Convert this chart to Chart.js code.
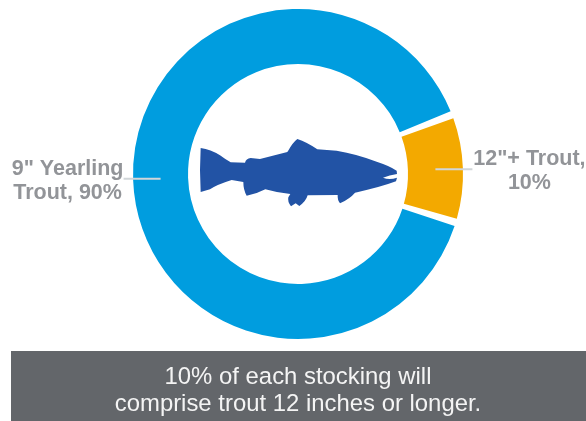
<!DOCTYPE html>
<html>
<head>
<meta charset="utf-8">
<style>
  html, body { margin: 0; padding: 0; background: #fff; }
  canvas { display: block; }
</style>
<script src="https://cdn.jsdelivr.net/npm/chart.js@4"></script>
</head>
<body>
<canvas id="chart" width="586" height="421"></canvas>
<script>
const categories = ['12"+ Trout', '9" Yearling Trout'];
const shares = [10, 90];
const sliceColors = ['#F3A900', '#009DDF'];
const sliceLabels = [['12"+ Trout,', '10%'], ['9" Yearling', 'Trout, 90%']];
const bannerLines = ['10% of each stocking will', 'comprise trout 12 inches or longer.'];

// Trout silhouette, in thirds of a pixel around the fish's own origin.
const troutPath = 'M62 84 Q92 88 120 106 Q136 118 152 127 L195 128 Q198 116 212 114 L240 117 L322 96 ' +
  'L326 90 Q338 68 352 57 Q380 66 412 88 L470 92 Q530 102 590 125 Q630 138 650 152 L651 162 ' +
  'Q628 166 609 173 Q628 181 651 173 L648 184 Q600 202 525 218 Q510 236 480 250 Q472 240 473 225 ' +
  'L383 226 Q378 244 358 258 L347 250 L333 259 Q322 245 325 232 L331 222 Q290 218 256 208 ' +
  'Q230 222 200 227 Q190 210 190 186 L155 180 Q110 194 90 208 L62 216 Q58 150 62 84 Z';

const overlay = {
  id: 'overlay',
  beforeDatasetsDraw(chart) {
    const ctx = chart.ctx;
    // Footer band behind the summary sentence
    ctx.save();
    ctx.fillStyle = '#63666A';
    ctx.fillRect(11, 351, 575, 70);
    ctx.fillStyle = '#F4F4F4';
    ctx.font = '23.9px "Liberation Sans", Arial, sans-serif';
    ctx.textAlign = 'center';
    ctx.textBaseline = 'alphabetic';
    bannerLines.forEach((line, i) => ctx.fillText(line, 298, 384 + i * 26.5));
    ctx.restore();
  },
  afterDatasetsDraw(chart) {
    const ctx = chart.ctx;
    const arcs = chart.getDatasetMeta(0).data;
    const cx = arcs[0].x, cy = arcs[0].y;

    // Fish in the hole of the ring
    ctx.save();
    ctx.translate(cx - 118, cy - 54);
    ctx.scale(1 / 3, 1 / 3);
    ctx.fillStyle = '#2253A5';
    ctx.fill(new Path2D(troutPath));
    ctx.restore();

    // Leader lines and their labels, one per slice
    arcs.forEach((arc, i) => {
      const { x, y } = arc.tooltipPosition();
      const side = x > cx ? 1 : -1;
      ctx.save();
      ctx.strokeStyle = '#D1D6D9';
      ctx.lineWidth = 2;
      ctx.beginPath();
      ctx.moveTo(x, y);
      ctx.lineTo(x + side * 37, y);
      ctx.stroke();

      ctx.fillStyle = '#929498';
      ctx.font = 'bold 21.5px "Liberation Sans", Arial, sans-serif';
      ctx.textAlign = 'center';
      ctx.textBaseline = 'alphabetic';
      const labelX = side > 0 ? x + 94 : x - 93;
      sliceLabels[i].forEach((line, j) => ctx.fillText(line, labelX, y - 4 + j * 24));
      ctx.restore();
    });
  }
};

new Chart(document.getElementById('chart'), {
  type: 'doughnut',
  data: {
    labels: categories,
    datasets: [{
      data: shares,
      backgroundColor: sliceColors,
      borderWidth: 0,
      spacing: 4
    }]
  },
  options: {
    responsive: false,
    animation: false,
    rotation: 70,
    cutout: 108,
    layout: { padding: { left: 133, right: 123, top: 9, bottom: 82 } },
    plugins: { legend: { display: false }, tooltip: { enabled: false } },
    events: []
  },
  plugins: [overlay]
});
</script>
</body>
</html>
